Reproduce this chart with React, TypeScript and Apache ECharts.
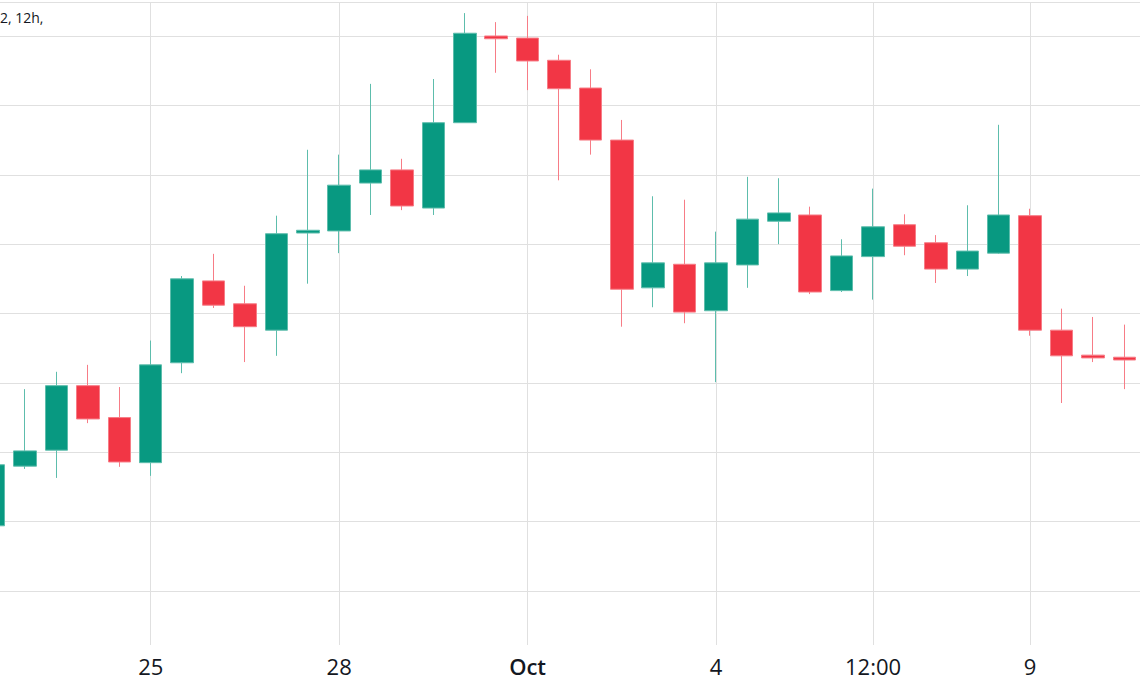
import React, { useEffect, useRef } from "react";
import * as echarts from "echarts";

// 12h candles, Sep 22 12:00 → Oct 10 12:00
const categories = [
  "09-22 12:00", "09-23 00:00", "09-23 12:00", "09-24 00:00", "09-24 12:00",
  "09-25 00:00", "09-25 12:00", "09-26 00:00", "09-26 12:00", "09-27 00:00",
  "09-27 12:00", "09-28 00:00", "09-28 12:00", "09-29 00:00", "09-29 12:00",
  "09-30 00:00", "09-30 12:00", "10-01 00:00", "10-01 12:00", "10-02 00:00",
  "10-02 12:00", "10-03 00:00", "10-03 12:00", "10-04 00:00", "10-04 12:00",
  "10-05 00:00", "10-05 12:00", "10-06 00:00", "10-06 12:00", "10-07 00:00",
  "10-07 12:00", "10-08 00:00", "10-08 12:00", "10-09 00:00", "10-09 12:00",
  "10-10 00:00", "10-10 12:00",
];

const opens = [2094, 2180, 2203, 2296, 2250, 2185, 2329, 2447, 2414, 2376, 2516, 2519, 2588, 2607, 2552, 2675, 2800, 2797, 2765, 2725, 2650, 2437, 2471, 2404, 2470, 2533, 2542, 2433, 2482, 2528, 2502, 2464, 2487, 2541, 2376, 2340, 2337];
const closes = [2182, 2202, 2296, 2248, 2186, 2326, 2450, 2412, 2381, 2515, 2520, 2585, 2607, 2555, 2675, 2804, 2796, 2764, 2724, 2650, 2435, 2473, 2402, 2473, 2536, 2545, 2431, 2483, 2525, 2497, 2464, 2490, 2542, 2376, 2339, 2336, 2333];
const lows = [2091, 2176, 2163, 2242, 2179, 2166, 2314, 2408, 2330, 2339, 2443, 2487, 2542, 2549, 2542, 2675, 2747, 2722, 2592, 2629, 2381, 2409, 2386, 2301, 2437, 2500, 2428, 2431, 2420, 2484, 2444, 2454, 2486, 2368, 2271, 2330, 2291];
const highs = [2185, 2291, 2316, 2326, 2294, 2361, 2454, 2486, 2440, 2541, 2636, 2629, 2731, 2623, 2738, 2833, 2820, 2829, 2773, 2752, 2679, 2569, 2564, 2518, 2597, 2595, 2554, 2507, 2580, 2543, 2513, 2556, 2672, 2551, 2407, 2395, 2384];

const tickIndices = [5, 11, 17, 23, 28, 33];
const tickLabels = ["25", "28", "Oct", "4", "12:00", "9"];
const boldLabels = ["Oct"];

const yMin = 1922.2;
const yMax = 2849;
const yStep = 100;

const titleText = "2, 12h,";

// the chart pane starts left of the visible page (first candle is cut)
const OFFSET = 22;

export default function App() {
  const ref = useRef<HTMLDivElement>(null);

  useEffect(() => {
    if (!ref.current) return;
    document.body.style.overflow = "hidden";
    const chart = echarts.init(ref.current, null, { renderer: "svg" });
    const data = opens.map((o, i) => [o, closes[i], lows[i], highs[i]]);
    const font = "'Open Sans', 'Noto Sans', sans-serif";
    const gridColor = "#e0e0e0";

    chart.setOption({
      animation: false,
      backgroundColor: "#ffffff",
      grid: { left: 0, right: 0, top: 2, bottom: 49, containLabel: false },
      xAxis: {
        type: "category",
        data: categories,
        boundaryGap: true,
        axisLine: { show: false },
        axisTick: { show: false, alignWithLabel: true },
        splitLine: {
          show: true,
          alignWithLabel: true,
          interval: (i: number) => tickIndices.includes(i),
          lineStyle: { color: gridColor, width: 1 },
        },
        axisLabel: {
          interval: (i: number) => tickIndices.includes(i),
          formatter: (_v: string, i: number) => {
            const k = tickIndices.indexOf(i);
            if (k < 0) return "";
            const t = tickLabels[k];
            return boldLabels.includes(t) ? `{b|${t}}` : t;
          },
          margin: 10,
          fontSize: 22,
          color: "#131722",
          fontFamily: font,
          rich: {
            b: { fontSize: 22, fontWeight: 600, color: "#131722", fontFamily: font },
          },
        },
      },
      yAxis: {
        type: "value",
        position: "right",
        min: yMin,
        max: yMax,
        minInterval: yStep,
        maxInterval: yStep,
        axisLine: { show: false },
        axisTick: { show: false },
        axisLabel: { show: false },
        splitLine: {
          show: true,
          showMinLine: false,
          lineStyle: { color: gridColor, width: 1 },
        },
      },
      series: [
        {
          type: "candlestick",
          data,
          barWidth: 23,
          clip: false,
          itemStyle: {
            color: "#089981",
            color0: "#f23645",
            borderColor: "#5dbdac",
            borderColor0: "#f77c86",
            borderWidth: 1,
          },
        },
      ],
      graphic: [
        {
          type: "text",
          left: OFFSET,
          top: 10,
          style: { text: titleText, fontSize: 14, fill: "#131722", fontFamily: font },
        },
      ],
    });

    return () => chart.dispose();
  }, []);

  return (
    <div
      ref={ref}
      style={{ position: "absolute", left: -OFFSET, top: 0, width: 1140 + OFFSET, height: 694 }}
    />
  );
}
